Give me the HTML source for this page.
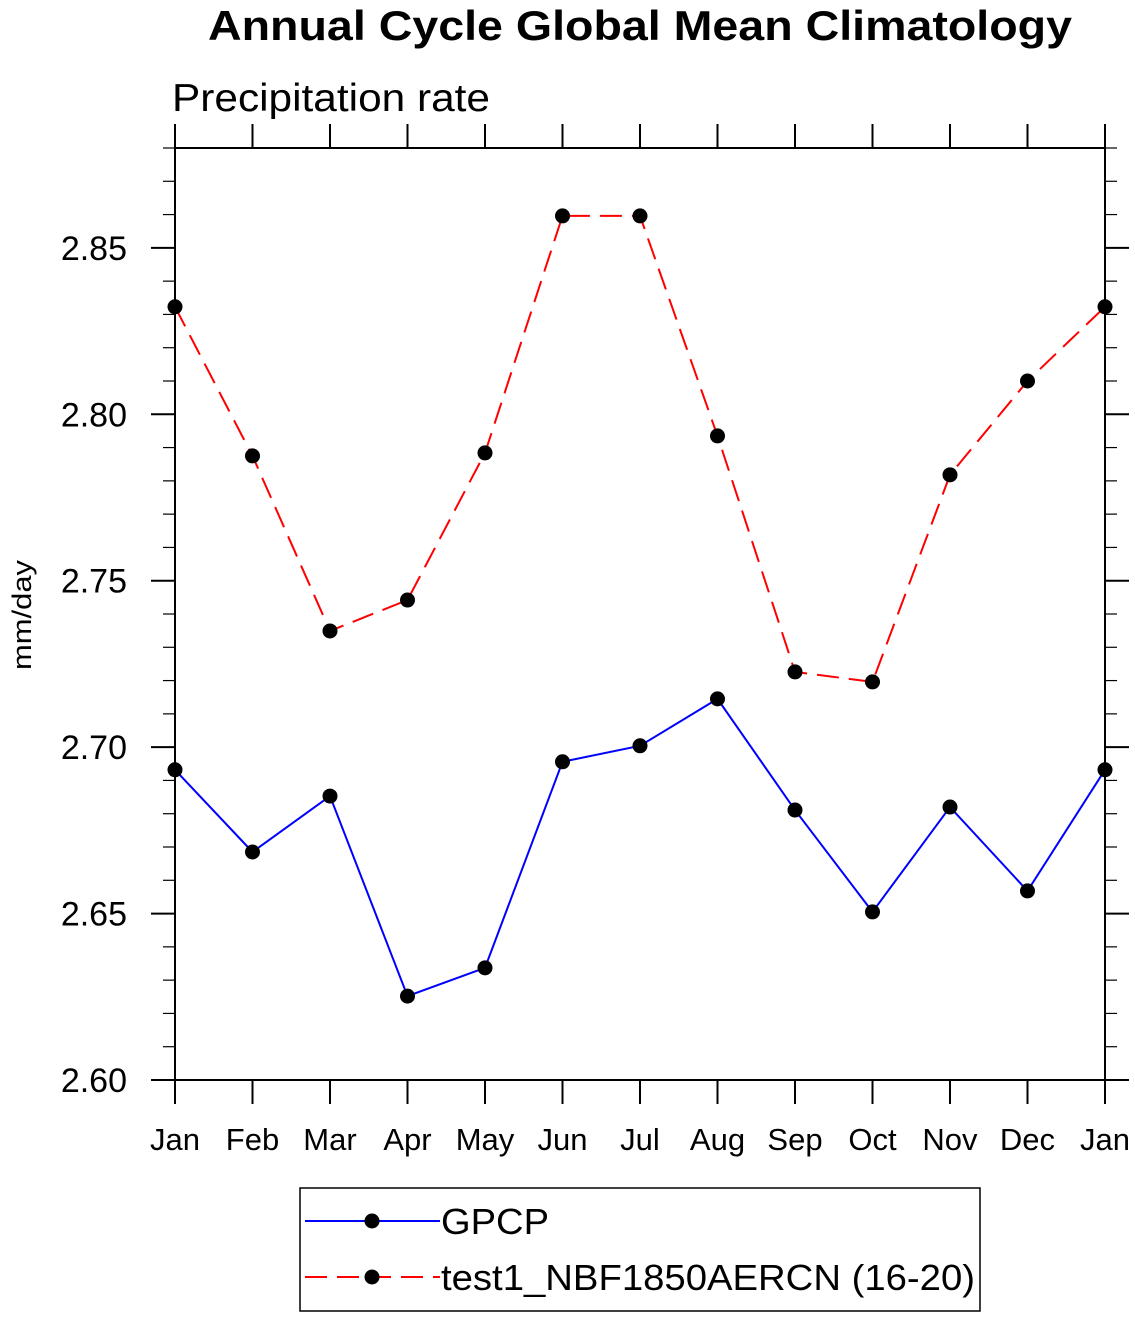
<!DOCTYPE html>
<html><head><meta charset="utf-8"><style>body{margin:0;background:#fff}svg text{font-family:"Liberation Sans",sans-serif}</style></head>
<body>
<svg width="1135" height="1318" id="c">
<text x="208" y="40" font-size="42" font-weight="bold" textLength="864" lengthAdjust="spacingAndGlyphs">Annual Cycle Global Mean Climatology</text>
<text x="172" y="111" font-size="39" textLength="318" lengthAdjust="spacingAndGlyphs">Precipitation rate</text>
<text transform="translate(31,615) rotate(-90)" x="-55" font-size="27" textLength="110" lengthAdjust="spacingAndGlyphs">mm/day</text>
<g id="ax"></g><g id="series"></g>
<g>
<rect x="300" y="1188" width="680" height="123" fill="none" stroke="#000" stroke-width="1.5"/>
<g><line x1="305" y1="1221" x2="440" y2="1221" stroke="#00f" stroke-width="2"/><circle cx="372" cy="1221" r="7.5"/><text x="441" y="1234" font-size="36" textLength="108" lengthAdjust="spacingAndGlyphs">GPCP</text></g>
<g><line x1="305" y1="1277" x2="440" y2="1277" stroke="#f00" stroke-width="2" stroke-dasharray="22,10"/><circle cx="372" cy="1277" r="7.5"/><text x="441" y="1290" font-size="36" textLength="534" lengthAdjust="spacingAndGlyphs">test1_NBF1850AERCN (16-20)</text></g>
</g>
</svg>
<script>
const months=["Jan","Feb","Mar","Apr","May","Jun","Jul","Aug","Sep","Oct","Nov","Dec","Jan"];
const gpcp=[2.6932,2.6685,2.6853,2.6252,2.6337,2.6956,2.7004,2.7145,2.6811,2.6505,2.6820,2.6568,2.6932];
const test1=[2.8323,2.7875,2.7349,2.7442,2.7884,2.8596,2.8596,2.7935,2.7226,2.7196,2.7818,2.8100,2.8323];
const yTicks=["2.60","2.65","2.70","2.75","2.80","2.85"];
const L=175,R=1105,T=148,B=1080,ymin=2.60,ymax=2.88;
const X=i=>L+i*(R-L)/(months.length-1);
const Y=v=>B-(v-ymin)/(ymax-ymin)*(B-T);
const ns="http://www.w3.org/2000/svg";
function mk(t,a,p){const e=document.createElementNS(ns,t);for(const k in a)e.setAttribute(k,a[k]);p.appendChild(e);return e;}
const ax=document.getElementById('ax'),sg=document.getElementById('series');
const frame=mk('rect',{x:L,y:T,width:R-L,height:B-T,fill:'none',stroke:'#000','stroke-width':2},ax);


months.forEach((m,i)=>{const x=X(i);
mk('line',{x1:x,y1:B,x2:x,y2:B+24,stroke:'#000','stroke-width':2},ax);
mk('line',{x1:x,y1:T,x2:x,y2:T-24,stroke:'#000','stroke-width':2},ax);
const t=mk('text',{x:x,y:B+70,'text-anchor':'middle','font-size':31},ax);t.textContent=m;

});
for(let k=0;k<=28;k++){const v=ymin+k*0.01,y=Y(v),maj=k%5==0,len=maj?24:12;
mk('line',{x1:L,y1:y,x2:L-len,y2:y,stroke:'#000','stroke-width':maj?2:1.2},ax);
mk('line',{x1:R,y1:y,x2:R+len,y2:y,stroke:'#000','stroke-width':maj?2:1.2},ax);}
yTicks.forEach(s=>{const t=mk('text',{x:127,y:Y(+s)+12,'text-anchor':'end','font-size':34},ax);t.textContent=s;

});
function draw(vals,col,dash,name){const g=mk('g',{},sg);


mk('polyline',{points:vals.map((v,i)=>X(i)+','+Y(v)).join(' '),fill:'none',stroke:col,'stroke-width':2,'stroke-dasharray':dash},g);
vals.forEach((v,i)=>{const c=mk('circle',{cx:X(i),cy:Y(v),r:7.5,fill:'#000'},g);

});}
draw(gpcp,'#00f','none','gpcp-series');
draw(test1,'#f00','22,10','test1-series');
</script>
</body></html>
